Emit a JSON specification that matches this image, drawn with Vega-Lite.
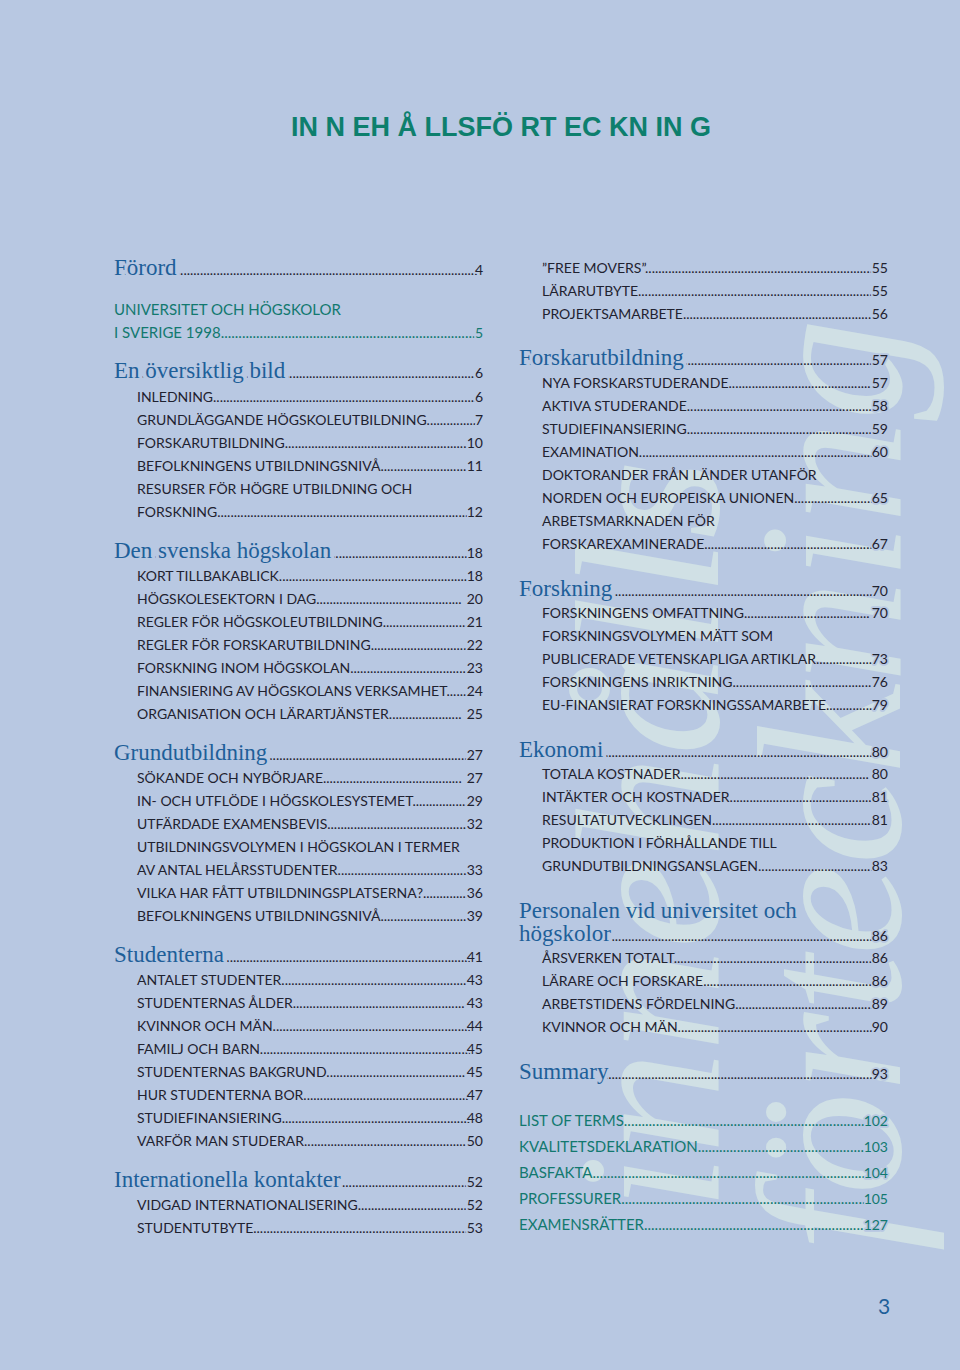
{
  "$schema": "https://vega.github.io/schema/vega-lite/v6.json",
  "width": 960,
  "height": 1370,
  "autosize": {"type": "fit", "contains": "padding"},
  "padding": 0,
  "background": "#b8c8e2",
  "config": {"view": {"stroke": null}},
  "datasets": {
    "entries": [
      {"col": "L", "y": 275, "kind": "head", "label": "Förord", "page": 4},
      {"col": "L", "y": 315, "kind": "sec", "label": "UNIVERSITET OCH HÖGSKOLOR", "page": null},
      {"col": "L", "y": 338, "kind": "sec", "label": "I SVERIGE 1998", "page": 5},
      {"col": "L", "y": 378, "kind": "head", "label": "En översiktlig bild", "page": 6},
      {"col": "L", "y": 402, "kind": "sub", "label": "INLEDNING", "page": 6},
      {"col": "L", "y": 425, "kind": "sub", "label": "GRUNDLÄGGANDE  HÖGSKOLEUTBILDNING", "page": 7},
      {"col": "L", "y": 448, "kind": "sub", "label": "FORSKARUTBILDNING", "page": 10},
      {"col": "L", "y": 471, "kind": "sub", "label": "BEFOLKNINGENS  UTBILDNINGSNIVÅ", "page": 11},
      {"col": "L", "y": 494, "kind": "sub", "label": "RESURSER FÖR HÖGRE UTBILDNING OCH", "page": null},
      {"col": "L", "y": 517, "kind": "sub", "label": "FORSKNING", "page": 12},
      {"col": "L", "y": 558, "kind": "head", "label": "Den svenska högskolan", "page": 18},
      {"col": "L", "y": 581, "kind": "sub", "label": "KORT  TILLBAKABLICK", "page": 18},
      {"col": "L", "y": 604, "kind": "sub", "label": "HÖGSKOLESEKTORN  I  DAG", "page": 20},
      {"col": "L", "y": 627, "kind": "sub", "label": "REGLER FÖR HÖGSKOLEUTBILDNING", "page": 21},
      {"col": "L", "y": 650, "kind": "sub", "label": "REGLER FÖR FORSKARUTBILDNING", "page": 22},
      {"col": "L", "y": 673, "kind": "sub", "label": "FORSKNING INOM HÖGSKOLAN", "page": 23},
      {"col": "L", "y": 696, "kind": "sub", "label": "FINANSIERING AV HÖGSKOLANS VERKSAMHET", "page": 24},
      {"col": "L", "y": 719, "kind": "sub", "label": "ORGANISATION  OCH  LÄRARTJÄNSTER", "page": 25},
      {"col": "L", "y": 760, "kind": "head", "label": "Grundutbildning", "page": 27},
      {"col": "L", "y": 783, "kind": "sub", "label": "SÖKANDE  OCH  NYBÖRJARE", "page": 27},
      {"col": "L", "y": 806, "kind": "sub", "label": "IN- OCH UTFLÖDE I HÖGSKOLESYSTEMET", "page": 29},
      {"col": "L", "y": 829, "kind": "sub", "label": "UTFÄRDADE  EXAMENSBEVIS", "page": 32},
      {"col": "L", "y": 852, "kind": "sub", "label": "UTBILDNINGSVOLYMEN  I HÖGSKOLAN  I  TERMER", "page": null},
      {"col": "L", "y": 875, "kind": "sub", "label": "AV ANTAL HELÅRSSTUDENTER", "page": 33},
      {"col": "L", "y": 898, "kind": "sub", "label": "VILKA HAR FÅTT UTBILDNINGSPLATSERNA?", "page": 36},
      {"col": "L", "y": 921, "kind": "sub", "label": "BEFOLKNINGENS  UTBILDNINGSNIVÅ", "page": 39},
      {"col": "L", "y": 962, "kind": "head", "label": "Studenterna", "page": 41},
      {"col": "L", "y": 985, "kind": "sub", "label": "ANTALET  STUDENTER", "page": 43},
      {"col": "L", "y": 1008, "kind": "sub", "label": "STUDENTERNAS  ÅLDER", "page": 43},
      {"col": "L", "y": 1031, "kind": "sub", "label": "KVINNOR OCH MÄN", "page": 44},
      {"col": "L", "y": 1054, "kind": "sub", "label": "FAMILJ OCH BARN", "page": 45},
      {"col": "L", "y": 1077, "kind": "sub", "label": "STUDENTERNAS  BAKGRUND", "page": 45},
      {"col": "L", "y": 1100, "kind": "sub", "label": "HUR STUDENTERNA BOR", "page": 47},
      {"col": "L", "y": 1123, "kind": "sub", "label": "STUDIEFINANSIERING", "page": 48},
      {"col": "L", "y": 1146, "kind": "sub", "label": "VARFÖR MAN STUDERAR", "page": 50},
      {"col": "L", "y": 1187, "kind": "head", "label": "Internationella kontakter", "page": 52},
      {"col": "L", "y": 1210, "kind": "sub", "label": "VIDGAD INTERNATIONALISERING", "page": 52},
      {"col": "L", "y": 1233, "kind": "sub", "label": "STUDENTUTBYTE", "page": 53},
      {"col": "R", "y": 273, "kind": "sub", "label": "”FREE  MOVERS”", "page": 55},
      {"col": "R", "y": 296, "kind": "sub", "label": "LÄRARUTBYTE", "page": 55},
      {"col": "R", "y": 319, "kind": "sub", "label": "PROJEKTSAMARBETE", "page": 56},
      {"col": "R", "y": 365, "kind": "head", "label": "Forskarutbildning", "page": 57},
      {"col": "R", "y": 388, "kind": "sub", "label": "NYA FORSKARSTUDERANDE", "page": 57},
      {"col": "R", "y": 411, "kind": "sub", "label": "AKTIVA  STUDERANDE", "page": 58},
      {"col": "R", "y": 434, "kind": "sub", "label": "STUDIEFINANSIERING", "page": 59},
      {"col": "R", "y": 457, "kind": "sub", "label": "EXAMINATION", "page": 60},
      {"col": "R", "y": 480, "kind": "sub", "label": "DOKTORANDER FRÅN LÄNDER UTANFÖR", "page": null},
      {"col": "R", "y": 503, "kind": "sub", "label": "NORDEN OCH EUROPEISKA UNIONEN", "page": 65},
      {"col": "R", "y": 526, "kind": "sub", "label": "ARBETSMARKNADEN FÖR", "page": null},
      {"col": "R", "y": 549, "kind": "sub", "label": "FORSKAREXAMINERADE", "page": 67},
      {"col": "R", "y": 596, "kind": "head", "label": "Forskning", "page": 70},
      {"col": "R", "y": 618, "kind": "sub", "label": "FORSKNINGENS   OMFATTNING", "page": 70},
      {"col": "R", "y": 641, "kind": "sub", "label": "FORSKNINGSVOLYMEN MÄTT SOM", "page": null},
      {"col": "R", "y": 664, "kind": "sub", "label": "PUBLICERADE VETENSKAPLIGA ARTIKLAR", "page": 73},
      {"col": "R", "y": 687, "kind": "sub", "label": "FORSKNINGENS  INRIKTNING", "page": 76},
      {"col": "R", "y": 710, "kind": "sub", "label": "EU-FINANSIERAT  FORSKNINGSSAMARBETE", "page": 79},
      {"col": "R", "y": 757, "kind": "head", "label": "Ekonomi", "page": 80},
      {"col": "R", "y": 779, "kind": "sub", "label": "TOTALA   KOSTNADER", "page": 80},
      {"col": "R", "y": 802, "kind": "sub", "label": "INTÄKTER OCH KOSTNADER", "page": 81},
      {"col": "R", "y": 825, "kind": "sub", "label": "RESULTATUTVECKLINGEN", "page": 81},
      {"col": "R", "y": 848, "kind": "sub", "label": "PRODUKTION I FÖRHÅLLANDE TILL", "page": null},
      {"col": "R", "y": 871, "kind": "sub", "label": "GRUNDUTBILDNINGSANSLAGEN", "page": 83},
      {"col": "R", "y": 918, "kind": "head", "label": "Personalen vid universitet och", "page": null},
      {"col": "R", "y": 941, "kind": "head", "label": "högskolor", "page": 86},
      {"col": "R", "y": 963, "kind": "sub", "label": "ÅRSVERKEN  TOTALT", "page": 86},
      {"col": "R", "y": 986, "kind": "sub", "label": "LÄRARE OCH FORSKARE", "page": 86},
      {"col": "R", "y": 1009, "kind": "sub", "label": "ARBETSTIDENS FÖRDELNING", "page": 89},
      {"col": "R", "y": 1032, "kind": "sub", "label": "KVINNOR OCH MÄN", "page": 90},
      {"col": "R", "y": 1079, "kind": "head", "label": "Summary", "page": 93},
      {"col": "R", "y": 1126, "kind": "sec", "label": "LIST OF TERMS", "page": 102},
      {"col": "R", "y": 1152, "kind": "sec", "label": "KVALITETSDEKLARATION", "page": 103},
      {"col": "R", "y": 1178, "kind": "sec", "label": "BASFAKTA", "page": 104},
      {"col": "R", "y": 1204, "kind": "sec", "label": "PROFESSURER", "page": 105},
      {"col": "R", "y": 1230, "kind": "sec", "label": "EXAMENSRÄTTER", "page": 127}
    ],
    "notes": [
      {"role": "wm", "text": "innehålls", "x": 718, "y": 835},
      {"role": "wm", "text": "förteckning", "x": 900, "y": 785},
      {"role": "title", "text": "IN N EH Å LLSFÖ RT EC KN IN G", "x": 501, "y": 136},
      {"role": "folio", "text": "3", "x": 884, "y": 1314}
    ]
  },
  "resolve": {"scale": {"x": "independent"}},
  "layer": [
    {
      "data": {"name": "notes"},
      "transform": [{"filter": "datum.role == 'wm'"}],
      "mark": {"type": "text", "angle": 270, "font": "Liberation Serif", "fontStyle": "italic", "fontSize": 205, "fill": "#d8e9e6", "opacity": 0.75, "align": "center", "baseline": "alphabetic"},
      "encoding": {
        "x": {"field": "x", "type": "quantitative", "scale": {"domain": [0, 960], "nice": false, "zero": false}, "axis": null},
        "y": {"field": "y", "type": "quantitative", "scale": {"domain": [0, 1370], "reverse": true, "nice": false, "zero": false}, "axis": null},
        "text": {"field": "text"}
      }
    },
    {
      "data": {"name": "notes"},
      "transform": [{"filter": "datum.role == 'title'"}],
      "mark": {"type": "text", "font": "Liberation Sans", "fontWeight": "bold", "fontSize": 27, "fill": "#0d7f6d", "align": "center", "baseline": "alphabetic"},
      "encoding": {
        "x": {"field": "x", "type": "quantitative", "scale": {"domain": [0, 960], "nice": false, "zero": false}, "axis": null},
        "y": {"field": "y", "type": "quantitative", "axis": null},
        "text": {"field": "text"}
      }
    },
    {
      "data": {"name": "notes"},
      "transform": [{"filter": "datum.role == 'folio'"}],
      "mark": {"type": "text", "font": "Lato", "fontSize": 21, "fill": "#1e5f99", "align": "center", "baseline": "alphabetic"},
      "encoding": {
        "x": {"field": "x", "type": "quantitative", "scale": {"domain": [0, 960], "nice": false, "zero": false}, "axis": null},
        "y": {"field": "y", "type": "quantitative", "axis": null},
        "text": {"field": "text"}
      }
    },
    {
      "data": {"name": "entries"},
      "transform": [{"filter": "datum.kind == 'head' && isValid(datum.page)"}],
      "mark": {"type": "text", "font": "Lato", "fontSize": 14, "fill": "#1f2230", "align": "left", "baseline": "alphabetic",
        "text": {"expr": "pad('', 160, '.')"},
        "limit": {"expr": "369 - length(toString(datum.page)) * 8.1 + 5"},
        "ellipsis": "."},
      "encoding": {
        "x": {"field": "col", "type": "nominal", "scale": {"type": "point", "domain": ["L", "R"], "range": [114, 519], "padding": 0}, "axis": null},
        "y": {"field": "y", "type": "quantitative", "axis": null}
      }
    },
    {
      "data": {"name": "entries"},
      "transform": [{"filter": "datum.kind == 'head' && isValid(datum.page)"}],
      "mark": {"type": "text", "font": "Liberation Serif", "fontSize": 23, "fill": "#b8c8e2", "stroke": "#b8c8e2", "strokeWidth": 7, "strokeJoin": "round", "align": "left", "baseline": "alphabetic"},
      "encoding": {
        "x": {"field": "col", "type": "nominal", "scale": {"type": "point", "domain": ["L", "R"], "range": [114, 519], "padding": 0}, "axis": null},
        "y": {"field": "y", "type": "quantitative", "axis": null},
        "text": {"field": "label"}
      }
    },
    {
      "data": {"name": "entries"},
      "transform": [{"filter": "datum.kind == 'head'"}],
      "mark": {"type": "text", "font": "Liberation Serif", "fontSize": 23, "fill": "#1e5f99", "align": "left", "baseline": "alphabetic"},
      "encoding": {
        "x": {"field": "col", "type": "nominal", "scale": {"type": "point", "domain": ["L", "R"], "range": [114, 519], "padding": 0}, "axis": null},
        "y": {"field": "y", "type": "quantitative", "axis": null},
        "text": {"field": "label"}
      }
    },
    {
      "data": {"name": "entries"},
      "transform": [{"filter": "datum.kind == 'sub'"}],
      "mark": {"type": "text", "font": "Lato", "fontSize": 14, "fill": "#1f2230", "align": "left", "baseline": "alphabetic", "dx": 23,
        "text": {"expr": "isValid(datum.page) ? pad(datum.label, 170, '.') : datum.label"},
        "limit": {"expr": "346 - (isValid(datum.page) ? length(toString(datum.page)) * 8.1 - 5 : 0)"},
        "ellipsis": "."},
      "encoding": {
        "x": {"field": "col", "type": "nominal", "scale": {"type": "point", "domain": ["L", "R"], "range": [114, 519], "padding": 0}, "axis": null},
        "y": {"field": "y", "type": "quantitative", "axis": null}
      }
    },
    {
      "data": {"name": "entries"},
      "transform": [{"filter": "datum.kind == 'sec'"}],
      "mark": {"type": "text", "font": "Lato", "fontSize": 15, "fill": "#12796f", "align": "left", "baseline": "alphabetic",
        "text": {"expr": "isValid(datum.page) ? pad(datum.label, 170, '.') : datum.label"},
        "limit": {"expr": "369 - (isValid(datum.page) ? length(toString(datum.page)) * 8.1 - 5 : 0)"},
        "ellipsis": "."},
      "encoding": {
        "x": {"field": "col", "type": "nominal", "scale": {"type": "point", "domain": ["L", "R"], "range": [114, 519], "padding": 0}, "axis": null},
        "y": {"field": "y", "type": "quantitative", "axis": null}
      }
    },
    {
      "data": {"name": "entries"},
      "transform": [{"filter": "isValid(datum.page)"}],
      "mark": {"type": "text", "font": "Lato", "fontSize": 14, "align": "right", "baseline": "alphabetic", "dx": 369,
        "fill": "#b8c8e2", "stroke": "#b8c8e2", "strokeWidth": 3.5, "strokeJoin": "round"},
      "encoding": {
        "x": {"field": "col", "type": "nominal", "scale": {"type": "point", "domain": ["L", "R"], "range": [114, 519], "padding": 0}, "axis": null},
        "y": {"field": "y", "type": "quantitative", "axis": null},
        "text": {"field": "page"}
      }
    },
    {
      "data": {"name": "entries"},
      "transform": [{"filter": "isValid(datum.page)"}],
      "mark": {"type": "text", "font": "Lato", "fontSize": 14, "align": "right", "baseline": "alphabetic", "dx": 369,
        "fill": {"expr": "datum.kind == 'sec' ? '#12796f' : '#1f2230'"}},
      "encoding": {
        "x": {"field": "col", "type": "nominal", "scale": {"type": "point", "domain": ["L", "R"], "range": [114, 519], "padding": 0}, "axis": null},
        "y": {"field": "y", "type": "quantitative", "axis": null},
        "text": {"field": "page"}
      }
    }
  ]
}
